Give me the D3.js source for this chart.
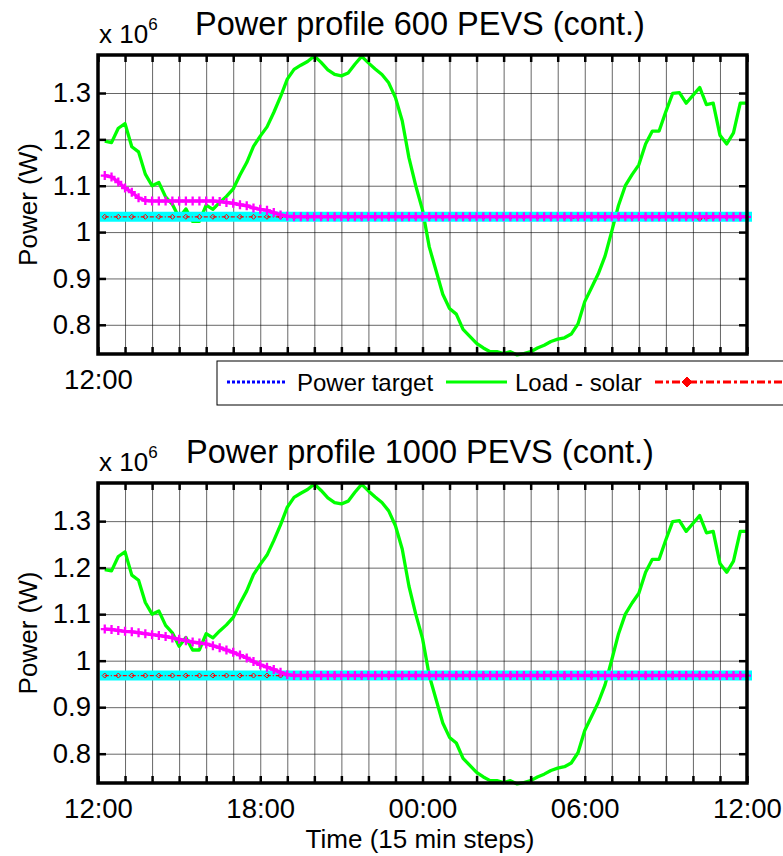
<!DOCTYPE html>
<html>
<head>
<meta charset="utf-8">
<script src="https://cdn.jsdelivr.net/npm/d3@7"></script>
<style>
body { margin: 0; background: #fff; }
text { font-family: "Liberation Sans", Arial, sans-serif; fill: #000; }
</style>
</head>
<body>
<svg id="chart" width="783" height="856"></svg>
<script>
// 15 min steps, 12:00 -> 12:00 next day
var steps = d3.range(1, 97);
var hourTicks = d3.range(0, 97, 4);
var xLabels = {0: "12:00", 24: "18:00", 48: "00:00", 72: "06:00", 96: "12:00"};
var yTicks = [0.8, 0.9, 1.0, 1.1, 1.2, 1.3];

// load - solar (x 10^6 W), same in both runs
var loadSolar = [
    1.196, 1.193, 1.224, 1.234, 1.184, 1.173, 1.125, 1.100, 1.107, 1.076, 1.060, 1.031,
    1.050, 1.023, 1.023, 1.058, 1.049, 1.064, 1.077, 1.093, 1.123, 1.150, 1.185, 1.207,
    1.227, 1.258, 1.292, 1.330, 1.351, 1.360, 1.368, 1.380, 1.366, 1.350, 1.340, 1.337,
    1.343, 1.362, 1.379, 1.365, 1.352, 1.340, 1.322, 1.290, 1.240, 1.160, 1.100, 1.048,
    0.968, 0.917, 0.866, 0.835, 0.823, 0.790, 0.775, 0.760, 0.750, 0.742, 0.742, 0.738,
    0.742, 0.735, 0.738, 0.742, 0.750, 0.756, 0.764, 0.769, 0.772, 0.780, 0.802, 0.850,
    0.880, 0.910, 0.948, 1.002, 1.058, 1.100, 1.124, 1.145, 1.190, 1.218, 1.218, 1.260,
    1.299, 1.301, 1.278, 1.295, 1.312, 1.275, 1.278, 1.209, 1.190, 1.214, 1.278, 1.278
];

// 600 PEVS
var target600 = [
    1.033, 1.033, 1.033, 1.033, 1.033, 1.033, 1.033, 1.033, 1.033, 1.033, 1.033, 1.033,
    1.033, 1.033, 1.033, 1.033, 1.033, 1.033, 1.033, 1.033, 1.033, 1.033, 1.033, 1.033,
    1.033, 1.033, 1.033, 1.033, 1.033, 1.033, 1.033, 1.033, 1.033, 1.033, 1.033, 1.033,
    1.033, 1.033, 1.033, 1.033, 1.033, 1.033, 1.033, 1.033, 1.033, 1.033, 1.033, 1.033,
    1.033, 1.033, 1.033, 1.033, 1.033, 1.033, 1.033, 1.033, 1.033, 1.033, 1.033, 1.033,
    1.033, 1.033, 1.033, 1.033, 1.033, 1.033, 1.033, 1.033, 1.033, 1.033, 1.033, 1.033,
    1.033, 1.033, 1.033, 1.033, 1.033, 1.033, 1.033, 1.033, 1.033, 1.033, 1.033, 1.033,
    1.033, 1.033, 1.033, 1.033, 1.033, 1.033, 1.033, 1.033, 1.033, 1.033, 1.033, 1.033
];
var result600 = [
    1.033, 1.033, 1.033, 1.033, 1.033, 1.033, 1.033, 1.033, 1.033, 1.033, 1.033, 1.033,
    1.033, 1.033, 1.033, 1.033, 1.033, 1.033, 1.033, 1.033, 1.033, 1.033, 1.033, 1.033,
    1.033, 1.033, 1.033, 1.033, 1.033, 1.033, 1.033, 1.033, 1.033, 1.033, 1.033, 1.033,
    1.033, 1.033, 1.033, 1.033, 1.033, 1.033, 1.033, 1.033, 1.033, 1.033, 1.033, 1.033,
    1.033, 1.033, 1.033, 1.033, 1.033, 1.033, 1.033, 1.033, 1.033, 1.033, 1.033, 1.033,
    1.033, 1.033, 1.033, 1.033, 1.033, 1.033, 1.033, 1.033, 1.033, 1.029, 1.033, 1.033,
    1.033, 1.033, 1.033, 1.033, 1.033, 1.033, 1.033, 1.033, 1.033, 1.033, 1.033, 1.033,
    1.033, 1.033, 1.033, 1.033, 1.029, 1.029, 1.033, 1.033, 1.033, 1.033, 1.033, 1.033
];
var evLoad600 = [
    1.122, 1.119, 1.108, 1.095, 1.086, 1.074, 1.068, 1.067, 1.067, 1.067, 1.067, 1.067,
    1.067, 1.067, 1.067, 1.067, 1.067, 1.066, 1.064, 1.062, 1.059, 1.057, 1.052, 1.049,
    1.047, 1.042, 1.037, 1.034, 1.033, 1.033, 1.033, 1.033, 1.033, 1.033, 1.033, 1.033,
    1.033, 1.033, 1.033, 1.033, 1.033, 1.033, 1.033, 1.033, 1.033, 1.033, 1.033, 1.033,
    1.033, 1.033, 1.033, 1.033, 1.033, 1.033, 1.033, 1.033, 1.033, 1.033, 1.033, 1.033,
    1.033, 1.033, 1.033, 1.033, 1.033, 1.033, 1.033, 1.033, 1.033, 1.033, 1.033, 1.033,
    1.033, 1.033, 1.033, 1.033, 1.033, 1.033, 1.033, 1.033, 1.033, 1.033, 1.033, 1.033,
    1.033, 1.033, 1.033, 1.033, 1.033, 1.033, 1.033, 1.033, 1.033, 1.033, 1.033, 1.033
];

// 1000 PEVS
var target1000 = [
    0.968, 0.968, 0.968, 0.968, 0.968, 0.968, 0.968, 0.968, 0.968, 0.968, 0.968, 0.968,
    0.968, 0.968, 0.968, 0.968, 0.968, 0.968, 0.968, 0.968, 0.968, 0.968, 0.968, 0.968,
    0.968, 0.968, 0.968, 0.968, 0.968, 0.968, 0.968, 0.968, 0.968, 0.968, 0.968, 0.968,
    0.968, 0.968, 0.968, 0.968, 0.968, 0.968, 0.968, 0.968, 0.968, 0.968, 0.968, 0.968,
    0.968, 0.968, 0.968, 0.968, 0.968, 0.968, 0.968, 0.968, 0.968, 0.968, 0.968, 0.968,
    0.968, 0.968, 0.968, 0.968, 0.968, 0.968, 0.968, 0.968, 0.968, 0.968, 0.968, 0.968,
    0.968, 0.968, 0.968, 0.968, 0.968, 0.968, 0.968, 0.968, 0.968, 0.968, 0.968, 0.968,
    0.968, 0.968, 0.968, 0.968, 0.968, 0.968, 0.968, 0.968, 0.968, 0.968, 0.968, 0.968
];
var result1000 = target1000.slice();
var evLoad1000 = [
    1.068, 1.067, 1.065, 1.063, 1.062, 1.060, 1.058, 1.056, 1.054, 1.052, 1.049, 1.046,
    1.043, 1.040, 1.038, 1.036, 1.032, 1.028, 1.023, 1.018, 1.012, 1.006, 0.998, 0.991,
    0.986, 0.981, 0.975, 0.970, 0.968, 0.968, 0.968, 0.968, 0.968, 0.968, 0.968, 0.968,
    0.968, 0.968, 0.968, 0.968, 0.968, 0.968, 0.968, 0.968, 0.968, 0.968, 0.968, 0.968,
    0.968, 0.968, 0.968, 0.968, 0.968, 0.968, 0.968, 0.968, 0.968, 0.968, 0.968, 0.968,
    0.968, 0.968, 0.968, 0.968, 0.968, 0.968, 0.968, 0.968, 0.968, 0.968, 0.968, 0.968,
    0.968, 0.968, 0.968, 0.968, 0.968, 0.968, 0.968, 0.968, 0.968, 0.968, 0.968, 0.968,
    0.968, 0.968, 0.968, 0.968, 0.968, 0.968, 0.968, 0.968, 0.968, 0.968, 0.968, 0.968
];

var svg = d3.select("#chart");

var left = 98, right = 747;
var x = d3.scaleLinear().domain([0, 96]).range([left, right]);
var yDomain = [0.737, 1.382];

function pts(vals) {
    return vals.map(function (v, i) { return [steps[i], v]; });
}

function drawPanel(top, bottom, title, target, result, evLoad, allXLabels) {
    var y = d3.scaleLinear().domain(yDomain).range([bottom, top]);
    var g = svg.append("g");
    var line = d3.line().x(function (d) { return x(d[0]); }).y(function (d) { return y(d[1]); });

    // grid
    g.append("g")
        .attr("transform", "translate(0," + bottom + ")")
        .call(d3.axisBottom(x).tickValues(hourTicks).tickSize(-(bottom - top)).tickFormat(""))
        .call(function (s) {
            s.select(".domain").remove();
            s.selectAll("line").attr("stroke", "#000").attr("stroke-opacity", 0.6).attr("stroke-width", 1);
        });
    g.append("g")
        .attr("transform", "translate(" + left + ",0)")
        .call(d3.axisLeft(y).tickValues(yTicks).tickSize(-(right - left)).tickFormat(""))
        .call(function (s) {
            s.select(".domain").remove();
            s.selectAll("line").attr("stroke", "#000").attr("stroke-opacity", 0.6).attr("stroke-width", 1);
        });

    // power target (blue dotted)
    g.append("path").datum(pts(target)).attr("d", line)
        .attr("fill", "none").attr("stroke", "#0000ff").attr("stroke-width", 2.5)
        .attr("stroke-dasharray", "2,2");

    // load - solar
    g.append("path").datum(pts(loadSolar)).attr("d", line)
        .attr("fill", "none").attr("stroke", "#00ff00").attr("stroke-width", 3.3)
        .attr("stroke-linejoin", "round");

    // cyan band
    g.append("path").datum(pts(target)).attr("d", line)
        .attr("fill", "none").attr("stroke", "#00ffff").attr("stroke-width", 10)
        .attr("stroke-linecap", "square");

    // red dash-dot with diamonds
    g.append("path").datum(pts(result)).attr("d", line)
        .attr("fill", "none").attr("stroke", "#ff0000").attr("stroke-width", 1.2)
        .attr("stroke-dasharray", "4,2,1,2");
    g.append("g").selectAll("path")
        .data(pts(result).filter(function (d, i) { return i % 2 === 0; }))
        .enter().append("path")
        .attr("transform", function (d) { return "translate(" + x(d[0]) + "," + y(d[1]) + ")"; })
        .attr("d", "M0,-2.5L2.5,0L0,2.5L-2.5,0Z")
        .attr("fill", "none").attr("stroke", "#ff0000").attr("stroke-width", 1);

    // EV load (magenta with +)
    g.append("path").datum(pts(evLoad)).attr("d", line)
        .attr("fill", "none").attr("stroke", "#ff00ff").attr("stroke-width", 3.5);
    g.append("g").selectAll("path")
        .data(pts(evLoad))
        .enter().append("path")
        .attr("transform", function (d) { return "translate(" + x(d[0]) + "," + y(d[1]) + ")"; })
        .attr("d", "M-4,0H4M0,-4.5V4.5")
        .attr("stroke", "#ff00ff").attr("stroke-width", 2.3);

    // box
    g.append("rect").attr("x", left).attr("y", top)
        .attr("width", right - left).attr("height", bottom - top)
        .attr("fill", "none").attr("stroke", "#000").attr("stroke-width", 3.5);

    // inward ticks
    function tickStyle(s) {
        s.select(".domain").remove();
        s.selectAll("line").attr("stroke", "#000").attr("stroke-width", 2.5);
        s.selectAll("text").style("font-size", "27.5px").attr("fill", "#000");
    }
    g.append("g").attr("transform", "translate(0," + bottom + ")")
        .call(d3.axisBottom(x).tickValues(hourTicks).tickSize(-7).tickPadding(15)
            .tickFormat(function (d) {
                // legend covers the rest in the top panel
                if (!allXLabels && d !== 0) return "";
                return xLabels[d] || "";
            }))
        .call(tickStyle);
    g.append("g").attr("transform", "translate(0," + top + ")")
        .call(d3.axisTop(x).tickValues(hourTicks).tickSize(-7).tickFormat(""))
        .call(tickStyle);
    g.append("g").attr("transform", "translate(" + left + ",0)")
        .call(d3.axisLeft(y).tickValues(yTicks).tickSize(-8).tickPadding(7)
            .tickFormat(function (d) { return d3.format("")(+d.toFixed(1)); }))
        .call(tickStyle);
    g.append("g").attr("transform", "translate(" + right + ",0)")
        .call(d3.axisRight(y).tickValues(yTicks).tickSize(-8).tickFormat(""))
        .call(tickStyle);

    // exponent
    var ex = g.append("text").attr("x", 99).attr("y", top - 12).style("font-size", "26px");
    ex.append("tspan").text("x 10");
    ex.append("tspan").attr("dy", -13).style("font-size", "17px").text("6");

    // title
    g.append("text").attr("x", 420).attr("y", top - 20)
        .attr("text-anchor", "middle").style("font-size", "32.5px").text(title);

    // y label
    g.append("text")
        .attr("transform", "translate(37," + ((top + bottom) / 2) + ") rotate(-90)")
        .attr("text-anchor", "middle").style("font-size", "26px").text("Power (W)");
}

drawPanel(55, 354, "Power profile 600 PEVS (cont.)", target600, result600, evLoad600, false);
drawPanel(483, 783, "Power profile 1000 PEVS (cont.)", target1000, result1000, evLoad1000, true);

// x label
svg.append("text").attr("x", 420).attr("y", 848)
    .attr("text-anchor", "middle").style("font-size", "26px").text("Time (15 min steps)");

// legend (runs off the right edge)
var lg = svg.append("g");
lg.append("rect").attr("x", 217).attr("y", 361).attr("width", 600).attr("height", 44)
    .attr("fill", "#fff").attr("stroke", "#000").attr("stroke-width", 1);
var ly = 382;
lg.append("line").attr("x1", 227).attr("x2", 286).attr("y1", ly).attr("y2", ly)
    .attr("stroke", "#0000ff").attr("stroke-width", 3).attr("stroke-dasharray", "3,2");
lg.append("text").attr("x", 297).attr("y", 391).style("font-size", "24px").text("Power target");
lg.append("line").attr("x1", 446).attr("x2", 507).attr("y1", ly).attr("y2", ly)
    .attr("stroke", "#00ff00").attr("stroke-width", 3);
lg.append("text").attr("x", 515).attr("y", 391).style("font-size", "24px").text("Load - solar");
lg.append("line").attr("x1", 655).attr("x2", 790).attr("y1", ly).attr("y2", ly)
    .attr("stroke", "#ff0000").attr("stroke-width", 3).attr("stroke-dasharray", "8,3,3,3");
lg.append("path").attr("transform", "translate(687," + ly + ")")
    .attr("d", "M0,-5L5,0L0,5L-5,0Z").attr("fill", "#ff0000").attr("stroke", "#ff0000");
</script>
</body>
</html>
